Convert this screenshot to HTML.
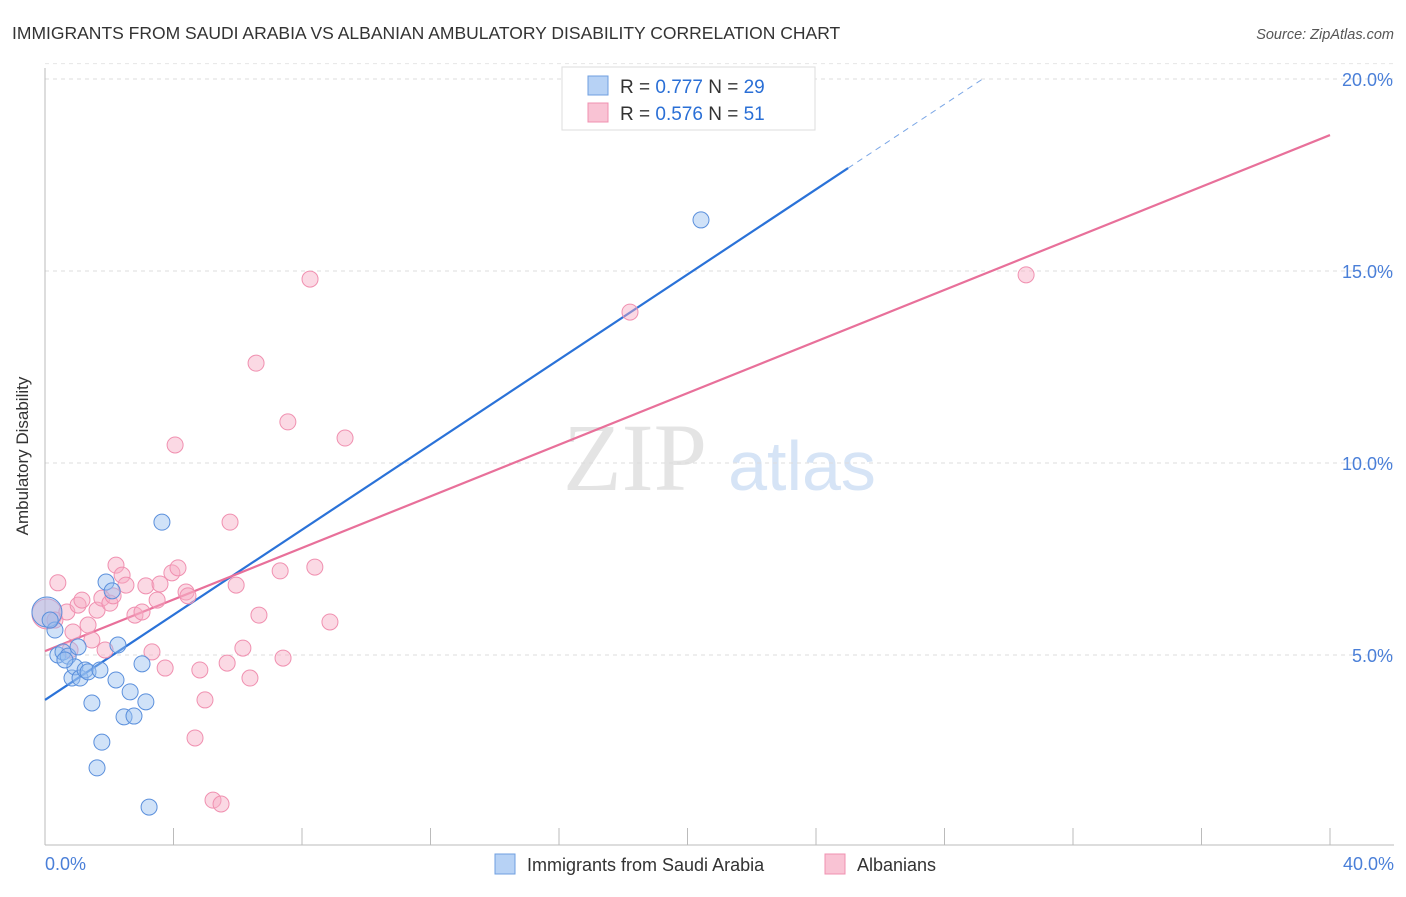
<!DOCTYPE html>
<html><head><meta charset="utf-8"><style>
body{margin:0;background:#fff;font-family:"Liberation Sans",sans-serif;}
svg text{font-family:"Liberation Sans",sans-serif;}
</style></head><body>
<svg id="chart" width="1406" height="892">
<text x="12" y="39" font-size="17.5" fill="#333">IMMIGRANTS FROM SAUDI ARABIA VS ALBANIAN AMBULATORY DISABILITY CORRELATION CHART</text>
<text x="1394" y="39" font-size="14.5" fill="#555" font-style="italic" text-anchor="end">Source: ZipAtlas.com</text>
<text x="28" y="456" font-size="17" fill="#333" text-anchor="middle" transform="rotate(-90 28 456)">Ambulatory Disability</text>
<g>
<text x="635" y="490" font-size="96" fill="#e4e4e4" text-anchor="middle" font-family="Liberation Serif" style="font-family:'Liberation Serif',serif">ZIP</text>
<text x="802" y="490" font-size="70" fill="#d6e4f6" text-anchor="middle">atlas</text>
</g>
<g id="grid"></g><g id="axes"></g><g id="lines"></g><g id="pts"></g>
<g>
<rect x="562" y="67" width="253" height="63" fill="#fff" stroke="#ddd"/>
<rect x="588" y="76" width="20" height="19" fill="#b7d2f5" stroke="#6f9fe0"/>
<text x="620" y="93" font-size="19" fill="#333">R = <tspan fill="#2a6fd6">0.777</tspan>   N = <tspan fill="#2a6fd6">29</tspan></text>
<rect x="588" y="103" width="20" height="19" fill="#f9c3d4" stroke="#f090b0"/>
<text x="620" y="120" font-size="19" fill="#333">R = <tspan fill="#2a6fd6">0.576</tspan>   N = <tspan fill="#2a6fd6"> 51</tspan></text>
</g>
<g>
<rect x="495" y="854" width="20" height="20" fill="#b7d2f5" stroke="#6f9fe0"/>
<text x="527" y="871" font-size="18" fill="#333">Immigrants from Saudi Arabia</text>
<rect x="825" y="854" width="20" height="20" fill="#f9c3d4" stroke="#f090b0"/>
<text x="857" y="871" font-size="18" fill="#333">Albanians</text>
</g>
</svg>
<script>
const yTicks=[5,10,15,20];
const yTickLabels=["5.0%","10.0%","15.0%","20.0%"];
const xTickLabels=["0.0%","40.0%"];
const blueX=[0.06,0.31,0.40,0.56,0.72,0.84,0.93,1.09,1.03,1.25,1.34,1.46,1.71,1.77,1.62,1.90,2.09,2.27,2.21,2.65,2.46,2.77,3.02,3.14,3.24,3.64,20.42,0.16,0.62];
const blueY=[6.12,5.65,5.0,5.08,4.97,4.40,4.69,4.40,5.21,4.61,4.56,3.75,4.61,2.73,2.06,6.90,6.67,5.26,4.35,4.04,3.39,3.41,4.77,3.78,1.04,8.46,16.33,5.91,4.87];
const pinkX=[0.06,0.40,0.31,0.68,0.87,1.03,1.15,1.34,1.46,1.62,1.77,2.02,2.12,2.21,2.40,2.52,2.80,3.02,3.14,3.33,3.49,3.58,3.74,3.95,4.05,4.14,4.39,4.45,4.67,4.82,4.98,5.23,5.48,5.67,5.76,5.95,6.16,6.38,6.57,6.66,7.32,7.41,7.56,8.25,8.40,8.87,9.34,18.21,30.54,0.78,1.87];
const pinkY=[6.07,6.88,5.91,6.12,5.60,6.30,6.43,5.78,5.39,6.17,6.48,6.35,6.54,7.34,7.08,6.82,6.04,6.12,6.80,5.08,6.43,6.85,4.66,7.14,10.47,7.27,6.64,6.54,2.84,4.61,3.83,1.22,1.12,4.79,8.46,6.82,5.18,4.40,12.60,6.04,7.19,4.92,11.07,14.79,7.29,5.86,10.65,13.93,14.90,5.13,5.13];
const blueLine=[3.83,0.554];const blueSolidEnd=25,blueDashEnd=29.25;
const pinkLine=[5.1,0.336];
const X=v=>45+v*32.125, Y=v=>847-v*38.4;
const NS="http://www.w3.org/2000/svg";
function mk(p,t,a){const e=document.createElementNS(NS,t);for(const k in a)e.setAttribute(k,a[k]);document.getElementById(p).appendChild(e);return e;}
yTicks.forEach((t,i)=>{
 const g=mk('grid','line',{x1:45,x2:1394,y1:Y(t),y2:Y(t),stroke:'#ddd','stroke-dasharray':'4,4'});
 
 
 const l=mk('axes','text',{x:1393,y:Y(t)+7,'font-size':18,fill:'#4a7fd8','text-anchor':'end'});l.textContent=yTickLabels[i];
 
 
});
mk('grid','line',{x1:45,x2:1394,y1:Y(20.4),y2:Y(20.4),stroke:'#e6e6e6','stroke-dasharray':'4,4'});
const ax=mk('axes','line',{x1:45,x2:45,y1:68,y2:845,stroke:'#bbb'});


const bx=mk('axes','line',{x1:45,x2:1394,y1:845,y2:845,stroke:'#bbb'});


for(let i=0;i<=10;i++){const t=mk('axes','line',{x1:X(i*4),x2:X(i*4),y1:828,y2:845,stroke:'#bbb'});
 
 }
[[0,'start',45],[40,'end',1394]].forEach((d,i)=>{const t=mk('axes','text',{x:d[2],y:870,'font-size':18,fill:'#4a7fd8','text-anchor':d[1]});t.textContent=xTickLabels[i];
 
 });
const bl=mk('lines','line',{x1:X(0),y1:Y(blueLine[0]),x2:X(blueSolidEnd),y2:Y(blueLine[0]+blueLine[1]*blueSolidEnd),stroke:'#2a72d8','stroke-width':2.2});


const bd=mk('lines','line',{x1:X(blueSolidEnd),y1:Y(blueLine[0]+blueLine[1]*blueSolidEnd),x2:X(blueDashEnd),y2:Y(blueLine[0]+blueLine[1]*blueDashEnd),stroke:'#7aa6e6','stroke-width':1,'stroke-dasharray':'6,5'});


const pl=mk('lines','line',{x1:X(0),y1:Y(pinkLine[0]),x2:X(40),y2:Y(pinkLine[0]+pinkLine[1]*40),stroke:'#e8709a','stroke-width':2.2});


pinkX.forEach((x,i)=>{const c=mk('pts','circle',{cx:X(x),cy:Y(pinkY[i]),r:i==0?15:8,fill:'rgba(246,170,195,0.45)',stroke:'#f090b0','stroke-width':1});
 
 });
blueX.forEach((x,i)=>{const c=mk('pts','circle',{cx:X(x),cy:Y(blueY[i]),r:i==0?15:8,fill:'rgba(150,190,240,0.45)',stroke:'#5a8fdc','stroke-width':1});
 
 });
</script>
</body></html>
